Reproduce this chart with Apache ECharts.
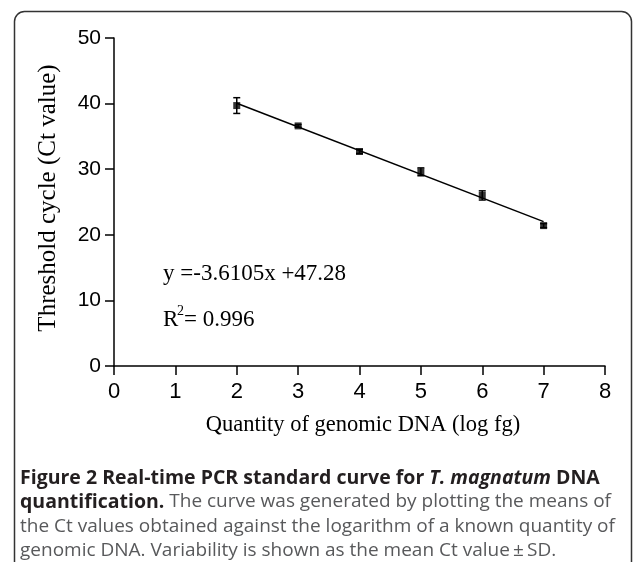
<!DOCTYPE html>
<html>
<head>
<meta charset="utf-8">
<script src="https://cdn.jsdelivr.net/npm/echarts@6/dist/echarts.min.js"></script>
<style>
  html, body { margin: 0; padding: 0; background: #fff; }
  #chart { width: 633px; height: 562px; }
</style>
</head>
<body>
<div id="chart"></div>
<script>
// log fg quantity and mean Ct
const logQty = [2, 3, 4, 5, 6, 7];
const ctMean = [39.7, 36.6, 32.7, 29.6, 26.0, 21.4];
const ctSD = [1.2, 0.2, 0.3, 0.6, 0.7, 0.3];
// fitted line y = -3.6105x + 47.28, end points
const fitX = [2, 7];
const fitY = [40.06, 22.01];
const xTicks = [0, 8, 1];
const yTicks = [0, 50, 10];

const chart = echarts.init(document.getElementById("chart"));

const serif = "'Liberation Serif', 'Times New Roman', serif";
const sans = "'Liberation Sans', Arial, sans-serif";
const capFont = "'Open Sans', sans-serif";

const points = logQty.map((x, i) => [x, ctMean[i]]);
const bars = logQty.map((x, i) => [x, ctMean[i] - ctSD[i], ctMean[i] + ctSD[i]]);

let option = {
  animation: false,
  grid: { left: 114, right: 28, top: 38, bottom: 196 },
  xAxis: {
    type: "value",
    min: xTicks[0],
    max: xTicks[1],
    interval: xTicks[2],
    splitLine: { show: false },
    axisLine: { lineStyle: { color: "#000", width: 1.5 } },
    axisTick: { length: 9, lineStyle: { color: "#000", width: 1.5 } },
    axisLabel: { color: "#000", fontFamily: sans, fontSize: 22, margin: 15 },
  },
  yAxis: {
    type: "value",
    min: yTicks[0],
    max: yTicks[1],
    interval: yTicks[2],
    splitLine: { show: false },
    axisLine: { show: true, lineStyle: { color: "#000", width: 1.5 } },
    axisTick: { show: true, length: 9, lineStyle: { color: "#000", width: 1.5 } },
    axisLabel: { color: "#000", fontFamily: sans, fontSize: 21, margin: 13 },
  },
  series: [
    {
      type: "line",
      data: fitX.map((x, i) => [x, fitY[i]]),
      symbol: "none",
      lineStyle: { color: "#000", width: 1.5 },
      z: 2,
    },
    {
      type: "custom",
      data: bars,
      renderItem: function (params, api) {
        const top = api.coord([api.value(0), api.value(2)]);
        const bot = api.coord([api.value(0), api.value(1)]);
        const w = 3.5;
        const st = { stroke: "#000", lineWidth: 1.5 };
        return {
          type: "group",
          children: [
            { type: "line", shape: { x1: top[0], y1: top[1], x2: bot[0], y2: bot[1] }, style: st },
            { type: "line", shape: { x1: top[0] - w, y1: top[1], x2: top[0] + w, y2: top[1] }, style: st },
            { type: "line", shape: { x1: bot[0] - w, y1: bot[1], x2: bot[0] + w, y2: bot[1] }, style: st },
          ],
        };
      },
      z: 3,
    },
    {
      type: "scatter",
      data: points,
      symbol: "rect",
      symbolSize: 7,
      itemStyle: { color: "#000" },
      z: 4,
    },
  ],
  graphic: [
    {
      type: "rect",
      shape: { x: 14.5, y: 11.5, width: 617, height: 560, r: 10 },
      style: { fill: "none", stroke: "#333", lineWidth: 1.5 },
      silent: true,
    },
    {
      type: "text",
      x: 48, y: 198,
      rotation: Math.PI / 2,
      style: {
        text: "Threshold cycle (Ct value)",
        font: "25px " + serif,
        fill: "#000",
        align: "center",
        verticalAlign: "middle",
      },
    },
    {
      type: "text",
      x: 363, y: 425,
      style: {
        text: "Quantity of genomic DNA (log fg)",
        font: "22.5px " + serif,
        fill: "#000",
        align: "center",
        verticalAlign: "middle",
      },
    },
    {
      type: "text",
      x: 163, y: 274,
      style: { text: "y =-3.6105x +47.28", font: "23px " + serif, fill: "#000", verticalAlign: "middle" },
    },
    {
      type: "text",
      x: 163, y: 320,
      style: { text: "R", font: "23px " + serif, fill: "#000", verticalAlign: "middle" },
    },
    {
      type: "text",
      x: 177, y: 311,
      style: { text: "2", font: "14px " + serif, fill: "#000", verticalAlign: "middle" },
    },
    {
      type: "text",
      x: 184, y: 320,
      style: { text: "= 0.996", font: "23px " + serif, fill: "#000", verticalAlign: "middle" },
    },
    {
      type: "text",
      x: 20, y: 478,
      style: {
        text: "{b|Figure 2 Real-time PCR standard curve for }{bi|T. magnatum}{b| DNA}",
        verticalAlign: "middle",
        rich: {
          b: { font: "bold 19.5px " + capFont, fill: "#231f20" },
          bi: { font: "italic bold 19.5px " + capFont, fill: "#231f20" },
        },
      },
    },
    {
      type: "text",
      x: 20, y: 502,
      style: {
        text: "{b|quantification.}{n| The curve was generated by plotting the means of}",
        verticalAlign: "middle",
        rich: {
          b: { font: "bold 19.5px " + capFont, fill: "#231f20" },
          n: { font: "19px " + capFont, fill: "#58595b" },
        },
      },
    },
    {
      type: "text",
      x: 20, y: 527,
      style: {
        text: "the Ct values obtained against the logarithm of a known quantity of",
        font: "19px " + capFont, fill: "#58595b", verticalAlign: "middle",
      },
    },
    {
      type: "text",
      x: 20, y: 551,
      style: {
        text: "genomic DNA. Variability is shown as the mean Ct value\u2009\u00b1\u2009SD.",
        font: "19px " + capFont, fill: "#58595b", verticalAlign: "middle",
      },
    },
  ],
};

chart.setOption(option);
</script>
</body>
</html>
